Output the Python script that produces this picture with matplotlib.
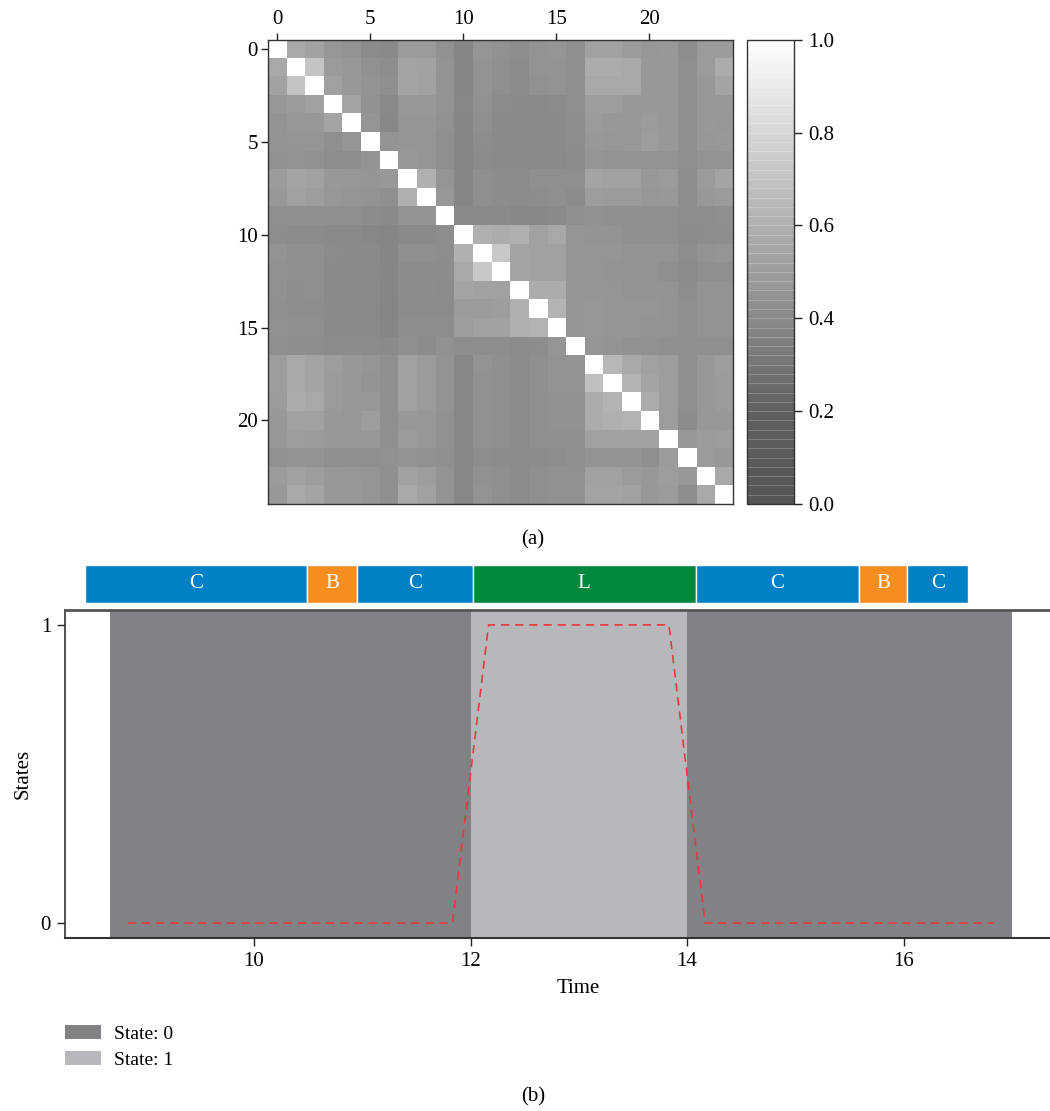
import numpy as np
import matplotlib
matplotlib.use("Agg")
import matplotlib.pyplot as plt
from matplotlib.colors import LinearSegmentedColormap
from matplotlib.patches import Patch

plt.rcParams["font.family"] = ["Liberation Serif", "DejaVu Serif"]
plt.rcParams["font.size"] = 15

# ---------------- similarity matrix between the 25 frames ----------------
similarity = [
    [1.00, 0.56, 0.53, 0.47, 0.45, 0.41, 0.40, 0.49, 0.49, 0.44, 0.385, 0.46, 0.44, 0.42, 0.45, 0.46, 0.43, 0.52, 0.52, 0.49, 0.47, 0.48, 0.42, 0.49, 0.49],
    [0.56, 1.00, 0.71, 0.49, 0.48, 0.44, 0.42, 0.54, 0.53, 0.45, 0.385, 0.45, 0.43, 0.41, 0.45, 0.45, 0.43, 0.58, 0.58, 0.56, 0.48, 0.48, 0.43, 0.49, 0.58],
    [0.53, 0.71, 1.00, 0.52, 0.48, 0.45, 0.43, 0.54, 0.52, 0.45, 0.385, 0.45, 0.43, 0.41, 0.44, 0.45, 0.43, 0.56, 0.56, 0.56, 0.48, 0.48, 0.43, 0.48, 0.54],
    [0.47, 0.49, 0.52, 1.00, 0.54, 0.44, 0.395, 0.48, 0.48, 0.45, 0.39, 0.44, 0.41, 0.40, 0.40, 0.41, 0.43, 0.50, 0.50, 0.48, 0.48, 0.48, 0.43, 0.48, 0.48],
    [0.45, 0.48, 0.48, 0.54, 1.00, 0.46, 0.39, 0.46, 0.46, 0.44, 0.385, 0.43, 0.405, 0.40, 0.40, 0.405, 0.42, 0.49, 0.48, 0.48, 0.49, 0.48, 0.43, 0.48, 0.47],
    [0.45, 0.46, 0.46, 0.43, 0.46, 1.00, 0.45, 0.46, 0.46, 0.43, 0.385, 0.42, 0.405, 0.40, 0.40, 0.405, 0.42, 0.48, 0.47, 0.48, 0.50, 0.48, 0.43, 0.47, 0.48],
    [0.44, 0.45, 0.44, 0.42, 0.42, 0.45, 1.00, 0.48, 0.46, 0.43, 0.38, 0.41, 0.40, 0.40, 0.40, 0.40, 0.415, 0.46, 0.45, 0.45, 0.45, 0.45, 0.43, 0.45, 0.45],
    [0.49, 0.54, 0.52, 0.48, 0.47, 0.46, 0.48, 1.00, 0.60, 0.46, 0.385, 0.43, 0.415, 0.41, 0.43, 0.43, 0.43, 0.54, 0.52, 0.52, 0.48, 0.49, 0.42, 0.49, 0.54],
    [0.48, 0.52, 0.50, 0.47, 0.46, 0.45, 0.43, 0.60, 1.00, 0.47, 0.385, 0.43, 0.415, 0.41, 0.42, 0.43, 0.415, 0.50, 0.49, 0.49, 0.47, 0.48, 0.42, 0.48, 0.49],
    [0.43, 0.43, 0.43, 0.43, 0.43, 0.415, 0.40, 0.45, 0.45, 1.00, 0.40, 0.40, 0.40, 0.39, 0.39, 0.40, 0.43, 0.44, 0.43, 0.43, 0.43, 0.43, 0.42, 0.42, 0.43],
    [0.42, 0.41, 0.41, 0.40, 0.40, 0.39, 0.385, 0.40, 0.40, 0.42, 1.00, 0.60, 0.58, 0.60, 0.52, 0.56, 0.46, 0.45, 0.45, 0.43, 0.43, 0.43, 0.41, 0.42, 0.42],
    [0.45, 0.43, 0.43, 0.41, 0.405, 0.40, 0.385, 0.43, 0.43, 0.42, 0.60, 1.00, 0.73, 0.54, 0.52, 0.52, 0.46, 0.46, 0.46, 0.45, 0.45, 0.45, 0.42, 0.45, 0.46],
    [0.44, 0.43, 0.43, 0.405, 0.40, 0.395, 0.385, 0.415, 0.415, 0.415, 0.56, 0.73, 1.00, 0.54, 0.52, 0.52, 0.46, 0.46, 0.45, 0.45, 0.45, 0.43, 0.41, 0.43, 0.43],
    [0.44, 0.42, 0.43, 0.405, 0.40, 0.40, 0.385, 0.415, 0.415, 0.41, 0.54, 0.52, 0.52, 1.00, 0.58, 0.58, 0.46, 0.46, 0.46, 0.45, 0.45, 0.45, 0.42, 0.45, 0.45],
    [0.43, 0.42, 0.42, 0.40, 0.395, 0.395, 0.38, 0.41, 0.41, 0.41, 0.49, 0.49, 0.50, 0.60, 1.00, 0.62, 0.46, 0.47, 0.46, 0.46, 0.46, 0.45, 0.43, 0.45, 0.45],
    [0.44, 0.43, 0.43, 0.405, 0.405, 0.40, 0.385, 0.42, 0.42, 0.42, 0.50, 0.52, 0.52, 0.60, 0.62, 1.00, 0.46, 0.47, 0.46, 0.46, 0.45, 0.45, 0.43, 0.45, 0.45],
    [0.43, 0.42, 0.42, 0.415, 0.415, 0.41, 0.40, 0.43, 0.415, 0.44, 0.42, 0.42, 0.42, 0.41, 0.42, 0.46, 1.00, 0.46, 0.45, 0.44, 0.44, 0.43, 0.43, 0.43, 0.43],
    [0.50, 0.56, 0.54, 0.50, 0.48, 0.46, 0.43, 0.52, 0.49, 0.45, 0.39, 0.45, 0.43, 0.41, 0.43, 0.45, 0.45, 1.00, 0.64, 0.56, 0.52, 0.50, 0.43, 0.48, 0.50],
    [0.50, 0.56, 0.54, 0.49, 0.48, 0.45, 0.43, 0.52, 0.49, 0.45, 0.39, 0.44, 0.43, 0.41, 0.43, 0.45, 0.45, 0.68, 1.00, 0.62, 0.54, 0.50, 0.43, 0.48, 0.49],
    [0.49, 0.58, 0.56, 0.49, 0.48, 0.47, 0.43, 0.52, 0.49, 0.45, 0.39, 0.44, 0.43, 0.41, 0.43, 0.44, 0.44, 0.58, 0.62, 1.00, 0.58, 0.50, 0.43, 0.48, 0.49],
    [0.48, 0.52, 0.52, 0.48, 0.47, 0.50, 0.43, 0.48, 0.47, 0.44, 0.39, 0.44, 0.43, 0.41, 0.43, 0.44, 0.44, 0.58, 0.60, 0.62, 1.00, 0.50, 0.415, 0.48, 0.48],
    [0.48, 0.50, 0.49, 0.48, 0.48, 0.47, 0.43, 0.49, 0.48, 0.44, 0.39, 0.44, 0.43, 0.41, 0.43, 0.43, 0.43, 0.52, 0.52, 0.52, 0.52, 1.00, 0.48, 0.49, 0.50],
    [0.44, 0.45, 0.45, 0.43, 0.43, 0.43, 0.44, 0.45, 0.44, 0.43, 0.39, 0.42, 0.415, 0.41, 0.415, 0.42, 0.43, 0.45, 0.45, 0.45, 0.43, 0.49, 1.00, 0.49, 0.48],
    [0.49, 0.52, 0.50, 0.48, 0.47, 0.46, 0.43, 0.52, 0.50, 0.45, 0.39, 0.44, 0.43, 0.41, 0.43, 0.44, 0.44, 0.52, 0.52, 0.49, 0.48, 0.50, 0.48, 1.00, 0.56],
    [0.48, 0.56, 0.54, 0.48, 0.48, 0.46, 0.43, 0.56, 0.52, 0.45, 0.39, 0.45, 0.43, 0.41, 0.43, 0.44, 0.44, 0.54, 0.54, 0.52, 0.48, 0.49, 0.42, 0.56, 1.00],
]
matrix_ticks = [0, 5, 10, 15, 20]
colorbar_ticks = [0.0, 0.2, 0.4, 0.6, 0.8, 1.0]

# ---------------- state sequence over time ----------------
times = [8.833, 9.167, 9.5, 9.833, 10.167, 10.5, 10.833, 11.167, 11.5, 11.833,
         12.167, 12.5, 12.833, 13.167, 13.5, 13.833,
         14.167, 14.5, 14.833, 15.167, 15.5, 15.833, 16.167, 16.5, 16.833]
states = [0, 0, 0, 0, 0, 0, 0, 0, 0, 0,
          1, 1, 1, 1, 1, 1,
          0, 0, 0, 0, 0, 0, 0, 0, 0]
time_ticks = [10, 12, 14, 16]

# activity annotation bar
segment_labels = ["C", "B", "C", "L", "C", "B", "C"]
segment_starts = [8.44, 10.49, 10.95, 12.02, 14.08, 15.59, 16.03]
segment_ends = [10.49, 10.95, 12.02, 14.08, 15.59, 16.03, 16.60]
segment_colors = {"C": "#0081c6", "B": "#f68e1f", "L": "#00883f"}
state_colors = {0: "#818286", 1: "#b7b8bb"}

W, H = 1050, 1111
fig = plt.figure(figsize=(W / 100, H / 100), dpi=100)


def frac_rect(x0, y0, x1, y1):
    return [x0 / W, 1 - y1 / H, (x1 - x0) / W, (y1 - y0) / H]


# ---------------- (a) heatmap ----------------
cmap = LinearSegmentedColormap.from_list(
    "greys_custom",
    [(0.0, "#555555"), (0.2, "#606060"), (0.4, "#8a8a8a"),
     (0.6, "#b0b0b0"), (0.8, "#d6d6d6"), (1.0, "#ffffff")],
)
ax_h = fig.add_axes(frac_rect(267.7, 39.7, 733.0, 504.0))
mat = np.array(similarity)
im = ax_h.imshow(mat, cmap=cmap, vmin=0, vmax=1, interpolation="nearest", aspect="auto")
ax_h.xaxis.tick_top()
ax_h.set_xticks(matrix_ticks)
ax_h.set_yticks(matrix_ticks)
ax_h.tick_params(direction="out", length=5, width=1, color="#222222", labelsize=15, pad=2)
ax_h.tick_params(axis="x", pad=3)
for s in ax_h.spines.values():
    s.set_linewidth(1.0)
    s.set_color("#333333")

cax = fig.add_axes(frac_rect(747, 39.7, 794, 504.0))
cb = fig.colorbar(im, cax=cax, ticks=colorbar_ticks)
cb.ax.set_yticklabels([f"{t:.1f}" for t in colorbar_ticks])
cb.ax.tick_params(direction="out", length=6, width=1, color="#222222", labelsize=15, pad=4)
cb.outline.set_linewidth(1.0)
cb.outline.set_edgecolor("#333333")
for lvl in np.arange(0.02, 1.0, 0.02):
    cb.ax.axhline(lvl, color="white", lw=0.7, alpha=0.22)

fig.text(533 / W, 1 - 540 / H, "(a)", ha="center", va="center", fontsize=15)

# ---------------- (b) state timeline ----------------
ax = fig.add_axes(frac_rect(65, 610, 1091, 938))
ax.set_xlim(8.254, 17.732)
ax.set_ylim(-0.05, 1.05)

t = np.array(times)
st = np.array(states)
half = np.median(np.diff(t)) / 2
run_start = 0
for i in range(1, len(st) + 1):
    if i == len(st) or st[i] != st[run_start]:
        left = t[run_start] - half if run_start == 0 else (t[run_start - 1] + t[run_start]) / 2
        right = t[i - 1] + half if i == len(st) else (t[i - 1] + t[i]) / 2
        ax.axvspan(left, right, color=state_colors[st[run_start]], lw=0, zorder=1)
        run_start = i

ax.plot(t, st, color="#e8383d", lw=1.2, dashes=(5, 3.5), zorder=3)

ax.set_xticks(time_ticks)
ax.set_yticks([0, 1])
ax.tick_params(direction="out", length=6, width=1, color="#222222", labelsize=15, pad=4)
ax.set_xlabel("Time", fontsize=15, labelpad=6)
ax.set_ylabel("States", fontsize=15, labelpad=6)
ax.spines["right"].set_visible(False)
ax.spines["top"].set_linewidth(2.0)
ax.spines["top"].set_color("#555555")
ax.spines["left"].set_linewidth(1.2)
ax.spines["left"].set_color("#333333")
ax.spines["bottom"].set_linewidth(1.5)
ax.spines["bottom"].set_color("#333333")

# annotation bar above the timeline
ax_seg = fig.add_axes(frac_rect(65, 565, 1091, 603), sharex=ax)
ax_seg.set_ylim(0, 1)
for lab, s0, s1 in zip(segment_labels, segment_starts, segment_ends):
    ax_seg.barh(0.5, s1 - s0, left=s0, height=1.0, color=segment_colors[lab],
                edgecolor="white", linewidth=1.0)
    ax_seg.text((s0 + s1) / 2, 0.5, lab, color="white", ha="center", va="center", fontsize=15)
ax_seg.axis("off")

legend_handles = [Patch(facecolor=state_colors[0], edgecolor="none", label="State: 0"),
                  Patch(facecolor=state_colors[1], edgecolor="none", label="State: 1")]
fig.legend(handles=legend_handles, loc="upper left", bbox_to_anchor=(65 / W, 1 - 1025 / H),
           frameon=False, fontsize=14, handlelength=1.85, handleheight=0.7,
           handletextpad=0.65, labelspacing=0.45, borderpad=0, borderaxespad=0)

fig.text(533 / W, 1 - 1097 / H, "(b)", ha="center", va="center", fontsize=15)

fig.savefig("out.png", dpi=100)
